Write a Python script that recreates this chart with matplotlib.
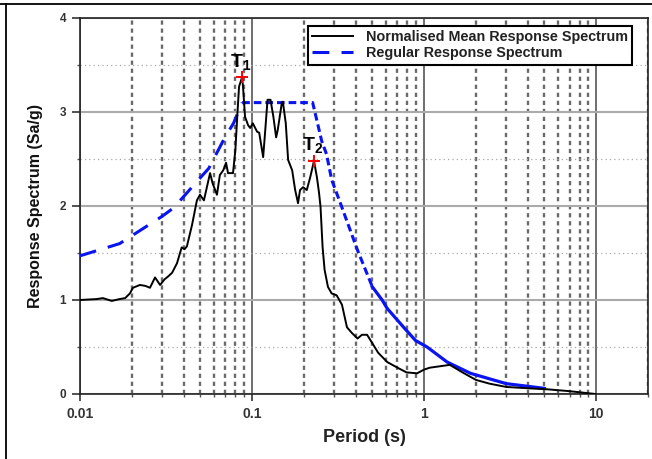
import matplotlib
matplotlib.use("Agg")
import matplotlib.pyplot as plt
from matplotlib.lines import Line2D
from matplotlib.ticker import LogLocator, MultipleLocator, FixedLocator, FixedFormatter, NullFormatter

plt.rcParams['font.family'] = ['Liberation Sans', 'DejaVu Sans']
plt.rcParams['mathtext.fontset'] = 'custom'
plt.rcParams['mathtext.rm'] = 'Liberation Sans'
plt.rcParams['mathtext.bf'] = 'Liberation Sans:bold'

# ---- data ----
mean_T = [0.010, 0.0125, 0.0136, 0.0153, 0.0170, 0.0183, 0.0195, 0.0203, 0.0223, 0.0240,
          0.0255, 0.0273, 0.0292, 0.0310, 0.0325, 0.0343, 0.0366, 0.0390, 0.0405, 0.0418,
          0.0448, 0.0478, 0.0498, 0.0525, 0.0570, 0.0590, 0.0625, 0.0650, 0.0680, 0.0706,
          0.0725, 0.0775, 0.0800, 0.0820, 0.0840, 0.0875, 0.0886, 0.0910, 0.0948, 0.0975,
          0.1010, 0.1070, 0.1100, 0.1160, 0.1190, 0.1230, 0.1280, 0.1330, 0.1380, 0.1410,
          0.1490, 0.1510, 0.1570, 0.1620, 0.1710, 0.1780, 0.1850, 0.1900, 0.1980, 0.2080,
          0.2180, 0.2290, 0.2380, 0.2450, 0.2500, 0.2570, 0.2640, 0.2760, 0.2900, 0.3100,
          0.3330, 0.3560, 0.3800, 0.4100, 0.4350, 0.4660, 0.5000, 0.5400, 0.6100, 0.7000,
          0.7900, 0.9100, 1.0000, 1.0800, 1.4100, 1.6700, 2.0000, 2.4000, 3.0000, 4.1000,
          5.2000, 7.0000, 9.9000]
mean_Sa = [1.00, 1.01, 1.02, 0.99, 1.01, 1.02, 1.07, 1.13, 1.16, 1.15,
           1.13, 1.24, 1.16, 1.22, 1.25, 1.29, 1.39, 1.56, 1.54, 1.57,
           1.80, 2.06, 2.12, 2.06, 2.35, 2.24, 2.12, 2.33, 2.38, 2.46,
           2.35, 2.35, 2.60, 2.95, 3.27, 3.37, 3.27, 2.95, 2.86, 2.83,
           2.88, 2.79, 2.78, 2.52, 2.78, 3.13, 3.13, 2.95, 2.73, 2.81,
           3.10, 3.11, 2.88, 2.49, 2.38, 2.17, 2.03, 2.17, 2.20, 2.17,
           2.31, 2.48, 2.31, 2.14, 1.99, 1.56, 1.32, 1.14, 1.07, 1.05,
           0.95, 0.71, 0.65, 0.59, 0.63, 0.63, 0.54, 0.44, 0.34, 0.28,
           0.23, 0.22, 0.26, 0.28, 0.31, 0.23, 0.15, 0.11, 0.075, 0.06,
           0.05, 0.03, 0.00]

# regular (design) spectrum, split by drawing style
reg_rise_T = [0.010, 0.017, 0.030, 0.035, 0.050, 0.056, 0.070, 0.078, 0.0876]
reg_rise_Sa = [1.47, 1.60, 1.89, 1.98, 2.30, 2.40, 2.74, 2.88, 3.10]
reg_mid_T = [0.0876, 0.225, 0.254, 0.271, 0.290, 0.323, 0.410, 0.500]
reg_mid_Sa = [3.10, 3.10, 2.69, 2.55, 2.28, 2.05, 1.53, 1.14]
reg_tail_T = [0.500, 0.570, 0.610, 0.760, 0.890, 1.040, 1.360, 1.860, 3.000, 5.000]
reg_tail_Sa = [1.14, 1.00, 0.91, 0.71, 0.57, 0.50, 0.34, 0.22, 0.11, 0.06]

peaks_T = [0.0875, 0.229]
peaks_Sa = [3.37, 2.48]
peak_labels = [r'$\mathbf{T_1}$', r'$\mathbf{T_2}$']

x_ticks = [0.01, 0.1, 1, 10]
x_ticklabels = ['0.01', '0.1', '1', '10']
y_ticks = [0, 1, 2, 3, 4]

# ---- figure ----
fig = plt.figure(figsize=(6.52, 4.59), dpi=100)
ax = fig.add_axes([80/652, 65/459, 568/652, 376/459])

ax.set_xscale('log')
ax.set_xlim(0.01, 20)
ax.set_ylim(0, 4)

ax.xaxis.set_major_locator(FixedLocator(x_ticks))
ax.xaxis.set_major_formatter(FixedFormatter(x_ticklabels))
ax.xaxis.set_minor_locator(LogLocator(base=10, subs=[2, 3, 4, 5, 6, 7, 8, 9], numticks=20))
ax.xaxis.set_minor_formatter(NullFormatter())
ax.yaxis.set_major_locator(FixedLocator(y_ticks))
ax.yaxis.set_minor_locator(MultipleLocator(0.5))

ax.set_axisbelow(True)
ax.xaxis.grid(True, which='major', color='#555555', lw=1.2, ls='-')
ax.xaxis.grid(True, which='minor', color='#6a6a6a', lw=1.7, ls=(0, (1.8, 1.6)))
ax.yaxis.grid(True, which='major', color='#aaaaaa', lw=1.5, ls='-')
ax.yaxis.grid(True, which='minor', color='#aaaaaa', lw=0.9, ls=(0, (1, 2.5)))

ax.tick_params(axis='x', which='major', direction='out', length=5, width=1.2, colors='#333333',
               labelsize=10, pad=4)
ax.tick_params(axis='x', which='minor', direction='out', length=2.5, width=1, colors='#555555')
ax.tick_params(axis='y', which='major', direction='out', length=6, width=1.2, colors='#333333',
               labelsize=8.5, pad=4)
ax.tick_params(axis='y', which='minor', direction='out', length=2.5, width=1, colors='#555555')
for lab in ax.get_xticklabels() + ax.get_yticklabels():
    lab.set_fontweight('bold')
for s in ax.spines.values():
    s.set_color('#222222')
    s.set_linewidth(1.2)

blue = '#0a14f0'
h_reg, = ax.plot(reg_rise_T, reg_rise_Sa, color=blue, lw=2.2, ls=(0, (5.5, 4.0)),
                 label='Regular Response Spectrum', zorder=3)
ax.plot(reg_mid_T, reg_mid_Sa, color=blue, lw=2.2, ls=(0, (2.5, 1.3)), zorder=3)
ax.plot(reg_tail_T, reg_tail_Sa, color=blue, lw=2.3, ls='-', zorder=3)
h_mean, = ax.plot(mean_T, mean_Sa, color='black', lw=1.4,
                  label='Normalised Mean Response Spectrum', zorder=4)

ax.plot(peaks_T, peaks_Sa, ls='none', marker='+', color='red', ms=8, mew=1.4, zorder=5)
for t, s, lab in zip(peaks_T, peaks_Sa, peak_labels):
    ax.annotate(lab, xy=(t, s), xytext=(-1, 4), textcoords='offset points',
                ha='center', va='bottom', fontsize=14, color='black', zorder=6)

leg = ax.legend(handles=[h_mean, h_reg], loc='upper right',
                bbox_to_anchor=((632 - 80) / 568, 1 - 8/376),
                frameon=True, fancybox=False, edgecolor='black', framealpha=1,
                prop={'weight': 'bold', 'size': 10.4}, handlelength=2.8, handletextpad=0.9,
                borderpad=0.3, labelspacing=0.15, borderaxespad=0)
leg.get_frame().set_linewidth(1.5)
for txt in leg.get_texts():
    txt.set_color('#222222')

ax.set_xlabel('Period (s)', fontsize=13, fontweight='bold', color='#222222', labelpad=6)
ax.set_ylabel('Response Spectrum (Sa/g)', fontsize=11.5, fontweight='bold', color='#111111', labelpad=12)

# page border lines
fig.add_artist(Line2D([0, 1], [1 - 4/459, 1 - 4/459], transform=fig.transFigure, color='black', lw=1.3))
fig.add_artist(Line2D([6/652, 6/652], [0, 1 - 4/459], transform=fig.transFigure, color='black', lw=1.3))

fig.savefig('out.png', dpi=100)
